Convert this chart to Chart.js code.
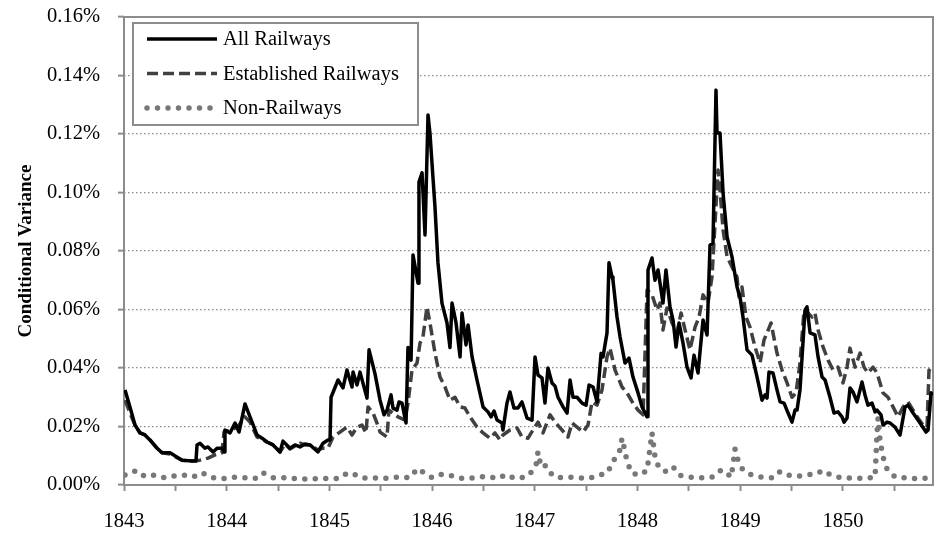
<!DOCTYPE html>
<html>
<head>
<meta charset="utf-8">
<script src="https://cdn.jsdelivr.net/npm/chart.js@4.4.0/dist/chart.umd.min.js"></script>
<style>
  html, body { margin: 0; padding: 0; background: #fff; }
</style>
</head>
<body>
<canvas id="chart" width="937" height="536"></canvas>
<script>
// All Railways (decimal year, conditional variance in %)
var allYears = [
  1843.010, 1843.058, 1843.107, 1843.156, 1843.204, 1843.253, 1843.321, 1843.370, 1843.448, 1843.565,
  1843.662, 1843.701, 1843.711, 1843.740, 1843.789, 1843.818, 1843.867, 1843.906, 1843.954, 1843.974,
  1843.983, 1844.032, 1844.081, 1844.120, 1844.178, 1844.227, 1844.295, 1844.344, 1844.392, 1844.451,
  1844.519, 1844.548, 1844.616, 1844.665, 1844.714, 1844.762, 1844.811, 1844.889, 1844.938, 1844.986,
  1845.006, 1845.016, 1845.084, 1845.132, 1845.171, 1845.220, 1845.230, 1845.269, 1845.298, 1845.366,
  1845.386, 1845.444, 1845.493, 1845.532, 1845.561, 1845.600, 1845.619, 1845.658, 1845.678, 1845.707,
  1845.746, 1845.765, 1845.795, 1845.814, 1845.863, 1845.872, 1845.902, 1845.931, 1845.960, 1845.979,
  1846.028, 1846.057, 1846.096, 1846.145, 1846.174, 1846.194, 1846.233, 1846.272, 1846.291, 1846.330,
  1846.350, 1846.389, 1846.437, 1846.496, 1846.544, 1846.574, 1846.603, 1846.632, 1846.681, 1846.690,
  1846.729, 1846.758, 1846.797, 1846.836, 1846.875, 1846.924, 1846.973, 1847.002, 1847.031, 1847.070,
  1847.099, 1847.128, 1847.167, 1847.197, 1847.226, 1847.275, 1847.314, 1847.343, 1847.372, 1847.411,
  1847.460, 1847.499, 1847.528, 1847.567, 1847.606, 1847.645, 1847.664, 1847.703, 1847.722, 1847.752,
  1847.761, 1847.800, 1847.830, 1847.878, 1847.917, 1847.956, 1848.005, 1848.044, 1848.083, 1848.093,
  1848.102, 1848.141, 1848.170, 1848.200, 1848.248, 1848.277, 1848.316, 1848.346, 1848.375, 1848.404,
  1848.443, 1848.482, 1848.521, 1848.550, 1848.589, 1848.638, 1848.677, 1848.706, 1848.735, 1848.764,
  1848.774, 1848.803, 1848.833, 1848.872, 1848.920, 1848.969, 1848.998, 1849.027, 1849.066, 1849.115,
  1849.164, 1849.212, 1849.242, 1849.261, 1849.280, 1849.319, 1849.358, 1849.388, 1849.427, 1849.466,
  1849.504, 1849.534, 1849.553, 1849.582, 1849.631, 1849.650, 1849.680, 1849.728, 1849.758, 1849.797,
  1849.826, 1849.874, 1849.913, 1849.952, 1849.991, 1850.011, 1850.040, 1850.069, 1850.098, 1850.137,
  1850.186, 1850.215, 1850.244, 1850.283, 1850.313, 1850.332, 1850.371, 1850.390, 1850.429, 1850.459,
  1850.507, 1850.556, 1850.605, 1850.634, 1850.683, 1850.751, 1850.809, 1850.829, 1850.858, 1850.877
];
var allValues = [
  0.0325, 0.0267, 0.0205, 0.0178, 0.0171, 0.0154, 0.0126, 0.0110, 0.0110, 0.0085,
  0.0082, 0.0082, 0.0137, 0.0143, 0.0126, 0.0130, 0.0113, 0.0126, 0.0126, 0.0113,
  0.0188, 0.0178, 0.0212, 0.0181, 0.0277, 0.0233, 0.0171, 0.0160, 0.0147, 0.0137,
  0.0113, 0.0150, 0.0126, 0.0137, 0.0130, 0.0140, 0.0137, 0.0113, 0.0143, 0.0154,
  0.0154, 0.0300, 0.0359, 0.0332, 0.0393, 0.0335, 0.0386, 0.0342, 0.0386, 0.0297,
  0.0462, 0.0380, 0.0290, 0.0240, 0.0256, 0.0308, 0.0263, 0.0256, 0.0284, 0.0280,
  0.0212, 0.0470, 0.0427, 0.0786, 0.0690, 0.1036, 0.1067, 0.0855, 0.1265, 0.1203,
  0.0950, 0.0760, 0.0622, 0.0554, 0.0470, 0.0622, 0.0554, 0.0438, 0.0588, 0.0479,
  0.0547, 0.0438, 0.0359, 0.0267, 0.0250, 0.0233, 0.0253, 0.0222, 0.0212, 0.0188,
  0.0280, 0.0318, 0.0263, 0.0263, 0.0284, 0.0229, 0.0222, 0.0438, 0.0376, 0.0366,
  0.0280, 0.0400, 0.0349, 0.0338, 0.0300, 0.0267, 0.0246, 0.0359, 0.0300, 0.0300,
  0.0280, 0.0273, 0.0342, 0.0335, 0.0284, 0.0450, 0.0438, 0.0520, 0.0760, 0.0711,
  0.0700, 0.0575, 0.0506, 0.0417, 0.0434, 0.0369, 0.0315, 0.0267, 0.0240, 0.0233,
  0.0735, 0.0776, 0.0700, 0.0735, 0.0622, 0.0735, 0.0609, 0.0564, 0.0472, 0.0554,
  0.0485, 0.0403, 0.0366, 0.0444, 0.0383, 0.0564, 0.0513, 0.0820, 0.0827, 0.1350,
  0.1203, 0.1203, 0.0998, 0.0848, 0.0780, 0.0677, 0.0643, 0.0574, 0.0462, 0.0444,
  0.0369, 0.0290, 0.0308, 0.0297, 0.0386, 0.0383, 0.0325, 0.0284, 0.0280, 0.0246,
  0.0215, 0.0256, 0.0256, 0.0325, 0.0598, 0.0609, 0.0520, 0.0513, 0.0438, 0.0369,
  0.0359, 0.0300, 0.0246, 0.0250, 0.0233, 0.0215, 0.0229, 0.0332, 0.0318, 0.0284,
  0.0352, 0.0308, 0.0273, 0.0280, 0.0250, 0.0256, 0.0240, 0.0205, 0.0215, 0.0212,
  0.0198, 0.0171, 0.0267, 0.0273, 0.0246, 0.0212, 0.0181, 0.0188, 0.0315, 0.0308
];

// Established Railways
var estYears = [
  1843.010, 1843.058, 1843.107, 1843.156, 1843.204, 1843.253, 1843.321, 1843.370, 1843.448, 1843.565,
  1843.662, 1843.740, 1843.818, 1843.886, 1843.954, 1843.974, 1844.052, 1844.120, 1844.178, 1844.227,
  1844.295, 1844.344, 1844.392, 1844.451, 1844.519, 1844.568, 1844.616, 1844.665, 1844.714, 1844.762,
  1844.811, 1844.889, 1844.938, 1844.986, 1845.035, 1845.103, 1845.171, 1845.220, 1845.269, 1845.317,
  1845.356, 1845.376, 1845.425, 1845.463, 1845.493, 1845.561, 1845.580, 1845.619, 1845.668, 1845.736,
  1845.765, 1845.804, 1845.853, 1845.882, 1845.911, 1845.950, 1845.979, 1846.028, 1846.077, 1846.126,
  1846.174, 1846.223, 1846.272, 1846.320, 1846.369, 1846.437, 1846.496, 1846.564, 1846.612, 1846.661,
  1846.690, 1846.758, 1846.827, 1846.875, 1846.934, 1846.982, 1847.031, 1847.080, 1847.148, 1847.197,
  1847.265, 1847.323, 1847.362, 1847.411, 1847.469, 1847.518, 1847.557, 1847.606, 1847.654, 1847.703,
  1847.732, 1847.781, 1847.849, 1847.898, 1847.956, 1848.005, 1848.054, 1848.093, 1848.141, 1848.190,
  1848.219, 1848.248, 1848.287, 1848.336, 1848.385, 1848.424, 1848.463, 1848.511, 1848.560, 1848.599,
  1848.638, 1848.686, 1848.725, 1848.755, 1848.784, 1848.803, 1848.833, 1848.872, 1848.920, 1848.969,
  1848.988, 1849.017, 1849.057, 1849.095, 1849.144, 1849.193, 1849.232, 1849.261, 1849.300, 1849.319,
  1849.358, 1849.407, 1849.456, 1849.504, 1849.543, 1849.582, 1849.621, 1849.660, 1849.699, 1849.728,
  1849.758, 1849.806, 1849.855, 1849.904, 1849.952, 1850.001, 1850.040, 1850.069, 1850.118, 1850.167,
  1850.205, 1850.244, 1850.293, 1850.332, 1850.390, 1850.439, 1850.488, 1850.537, 1850.585, 1850.634,
  1850.683, 1850.731, 1850.780, 1850.819, 1850.838, 1850.877
];
var estValues = [
  0.0290, 0.0246, 0.0205, 0.0178, 0.0171, 0.0154, 0.0126, 0.0110, 0.0106, 0.0085,
  0.0082, 0.0085, 0.0092, 0.0103, 0.0110, 0.0181, 0.0188, 0.0205, 0.0233, 0.0215,
  0.0164, 0.0157, 0.0147, 0.0137, 0.0113, 0.0140, 0.0123, 0.0133, 0.0143, 0.0137,
  0.0137, 0.0120, 0.0126, 0.0126, 0.0164, 0.0181, 0.0198, 0.0171, 0.0198, 0.0205,
  0.0178, 0.0267, 0.0246, 0.0212, 0.0181, 0.0164, 0.0256, 0.0246, 0.0233, 0.0222,
  0.0280, 0.0393, 0.0417, 0.0485, 0.0506, 0.0609, 0.0554, 0.0451, 0.0369, 0.0335,
  0.0290, 0.0300, 0.0267, 0.0263, 0.0233, 0.0198, 0.0178, 0.0160, 0.0178, 0.0154,
  0.0171, 0.0188, 0.0195, 0.0164, 0.0160, 0.0188, 0.0215, 0.0178, 0.0240, 0.0215,
  0.0188, 0.0164, 0.0212, 0.0198, 0.0181, 0.0205, 0.0284, 0.0273, 0.0325, 0.0438,
  0.0468, 0.0393, 0.0335, 0.0315, 0.0280, 0.0256, 0.0240, 0.0667, 0.0650, 0.0598,
  0.0622, 0.0530, 0.0605, 0.0554, 0.0520, 0.0588, 0.0530, 0.0462, 0.0540, 0.0574,
  0.0650, 0.0622, 0.0711, 0.0896, 0.1077, 0.1009, 0.0872, 0.0780, 0.0745, 0.0711,
  0.0643, 0.0677, 0.0574, 0.0540, 0.0472, 0.0417, 0.0496, 0.0520, 0.0554, 0.0520,
  0.0451, 0.0393, 0.0349, 0.0300, 0.0315, 0.0417, 0.0598, 0.0588, 0.0574, 0.0588,
  0.0530, 0.0472, 0.0427, 0.0393, 0.0403, 0.0349, 0.0403, 0.0468, 0.0403, 0.0451,
  0.0403, 0.0383, 0.0403, 0.0383, 0.0315, 0.0300, 0.0267, 0.0233, 0.0267, 0.0284,
  0.0256, 0.0229, 0.0205, 0.0198, 0.0393, 0.0376
];

// Non-Railways
var nonYears = [
  1843.010, 1843.088, 1843.117, 1843.204, 1843.292, 1843.399, 1843.477, 1843.574, 1843.672, 1843.759,
  1843.857, 1843.964, 1844.061, 1844.168, 1844.276, 1844.353, 1844.451, 1844.558, 1844.675, 1844.782,
  1844.889, 1844.986, 1845.093, 1845.171, 1845.210, 1845.317, 1845.425, 1845.522, 1845.629, 1845.726,
  1845.795, 1845.853, 1845.902, 1845.999, 1846.077, 1846.155, 1846.233, 1846.340, 1846.447, 1846.535,
  1846.642, 1846.720, 1846.807, 1846.914, 1846.973, 1847.012, 1847.031, 1847.051, 1847.080, 1847.119,
  1847.206, 1847.314, 1847.421, 1847.528, 1847.625, 1847.703, 1847.742, 1847.781, 1847.830, 1847.849,
  1847.878, 1847.898, 1847.946, 1848.024, 1848.093, 1848.141, 1848.170, 1848.209, 1848.277, 1848.346,
  1848.404, 1848.511, 1848.609, 1848.725, 1848.793, 1848.842, 1848.910, 1848.930, 1848.949, 1848.978,
  1849.027, 1849.115, 1849.212, 1849.319, 1849.388, 1849.466, 1849.563, 1849.650, 1849.728, 1849.806,
  1849.884, 1849.991, 1850.098, 1850.205, 1850.313, 1850.332, 1850.342, 1850.361, 1850.390, 1850.429,
  1850.507, 1850.614, 1850.722, 1850.829, 1850.877
];
var nonValues = [
  0.0034, 0.0044, 0.0050, 0.0029, 0.0034, 0.0025, 0.0030, 0.0034, 0.0027, 0.0042,
  0.0025, 0.0022, 0.0027, 0.0025, 0.0022, 0.0042, 0.0025, 0.0025, 0.0022, 0.0020,
  0.0022, 0.0022, 0.0022, 0.0040, 0.0042, 0.0024, 0.0024, 0.0022, 0.0027, 0.0025,
  0.0027, 0.0056, 0.0046, 0.0025, 0.0036, 0.0036, 0.0025, 0.0022, 0.0027, 0.0030,
  0.0022, 0.0036, 0.0022, 0.0027, 0.0046, 0.0068, 0.0113, 0.0079, 0.0085, 0.0050,
  0.0025, 0.0027, 0.0025, 0.0022, 0.0034, 0.0040, 0.0065, 0.0092, 0.0120, 0.0160,
  0.0116, 0.0079, 0.0040, 0.0034, 0.0050, 0.0178, 0.0096, 0.0058, 0.0046, 0.0062,
  0.0034, 0.0027, 0.0024, 0.0027, 0.0048, 0.0050, 0.0027, 0.0068, 0.0123, 0.0085,
  0.0050, 0.0034, 0.0027, 0.0024, 0.0046, 0.0034, 0.0030, 0.0036, 0.0036, 0.0050,
  0.0034, 0.0024, 0.0024, 0.0022, 0.0027, 0.0178, 0.0229, 0.0154, 0.0096, 0.0055,
  0.0027, 0.0024, 0.0022, 0.0024, 0.0024
];

var yearLabels = [1843, 1844, 1845, 1846, 1847, 1848, 1849, 1850];
var yTickValues = [0, 0.02, 0.04, 0.06, 0.08, 0.10, 0.12, 0.14, 0.16];

var serif = '"Liberation Serif", "Times New Roman", serif';

function toPoints(xs, ys) {
  return xs.map(function(x, i) { return { x: x, y: ys[i] }; });
}

// gray frame around the plot area
var plotFrame = {
  id: 'plotFrame',
  beforeDatasetsDraw: function(chart) {
    var a = chart.chartArea, ctx = chart.ctx;
    ctx.save();
    ctx.strokeStyle = '#8c8c8c';
    ctx.lineWidth = 2;
    ctx.strokeRect(a.left, a.top, a.right - a.left, a.bottom - a.top);
    ctx.restore();
  }
};

// legend box in the upper left of the plot
var legendBox = {
  id: 'legendBox',
  afterDatasetsDraw: function(chart) {
    var a = chart.chartArea, ctx = chart.ctx;
    var x = a.left + 9, y = a.top + 6, w = 285, h = 102;
    ctx.save();
    ctx.fillStyle = '#fff';
    ctx.fillRect(x, y, w, h);
    ctx.strokeStyle = '#8c8c8c';
    ctx.lineWidth = 2;
    ctx.strokeRect(x, y, w, h);
    chart.data.datasets.forEach(function(ds, i) {
      var ly = y + 16 + i * 34.5;
      ctx.beginPath();
      ctx.setLineDash(ds.borderDash || []);
      ctx.lineCap = ds.borderCapStyle || 'butt';
      ctx.strokeStyle = ds.borderColor;
      ctx.lineWidth = ds.borderWidth;
      ctx.moveTo(x + 14, ly);
      ctx.lineTo(x + 84, ly);
      ctx.stroke();
      ctx.setLineDash([]);
      ctx.fillStyle = '#000';
      ctx.font = '20.5px ' + serif;
      ctx.textBaseline = 'middle';
      ctx.fillText(ds.label, x + 90, ly + 1);
    });
    ctx.restore();
  }
};

var ctx = document.getElementById('chart').getContext('2d');
new Chart(ctx, {
  type: 'line',
  data: {
    datasets: [{
      label: 'All Railways',
      data: toPoints(allYears, allValues),
      borderColor: '#000000',
      borderWidth: 3.5,
      borderJoinStyle: 'round'
    }, {
      label: 'Established Railways',
      data: toPoints(estYears, estValues),
      borderColor: '#404040',
      borderWidth: 3.5,
      borderDash: [11, 5],
      borderJoinStyle: 'round'
    }, {
      label: 'Non-Railways',
      data: toPoints(nonYears, nonValues),
      borderColor: '#787878',
      borderWidth: 5.5,
      borderDash: [0, 10.5],
      borderCapStyle: 'round'
    }]
  },
  options: {
    responsive: false,
    animation: false,
    devicePixelRatio: 1,
    layout: { padding: { top: 17, right: 4, left: 0, bottom: 0 } },
    elements: {
      point: { radius: 0 },
      line: { tension: 0, fill: false }
    },
    plugins: {
      legend: { display: false },
      tooltip: { enabled: false }
    },
    scales: {
      x: {
        type: 'linear',
        min: 1843,
        max: 1850.877,
        afterBuildTicks: function(scale) {
          var t = [];
          yearLabels.forEach(function(y) {
            t.push({ value: y });
            t.push({ value: y + 0.5 });
          });
          scale.ticks = t;
        },
        afterFit: function(scale) {
          scale.height = 51;
          scale.paddingLeft = 0;
          scale.paddingRight = 0;
        },
        grid: {
          drawOnChartArea: false,
          drawTicks: true,
          tickLength: 6,
          tickColor: '#8c8c8c',
          tickWidth: 2
        },
        border: { display: false },
        ticks: {
          padding: 18,
          maxRotation: 0,
          autoSkip: false,
          color: '#000',
          font: { family: serif, size: 20.5 },
          callback: function(v) {
            return yearLabels.indexOf(v) >= 0 ? String(v) : '';
          }
        }
      },
      y: {
        min: 0,
        max: 0.16,
        afterBuildTicks: function(scale) {
          scale.ticks = yTickValues.map(function(v) { return { value: v }; });
        },
        afterFit: function(scale) {
          scale.width = 124;
          scale.paddingTop = 0;
          scale.paddingBottom = 0;
        },
        grid: {
          color: '#8c8c8c',
          lineWidth: 1.3,
          drawTicks: true,
          tickLength: 6,
          tickColor: '#8c8c8c',
          tickWidth: 2,
          tickBorderDash: []
        },
        border: { display: false, dash: [1.5, 2.5] },
        ticks: {
          padding: 18,
          color: '#000',
          font: { family: serif, size: 20.5 },
          callback: function(v) { return v.toFixed(2) + '%'; }
        },
        title: {
          display: true,
          text: 'Conditional Variance',
          color: '#000',
          font: { family: serif, size: 19, weight: 'bold' },
          padding: { top: 15, bottom: 0 }
        }
      }
    }
  },
  plugins: [plotFrame, legendBox]
});
</script>
</body>
</html>
